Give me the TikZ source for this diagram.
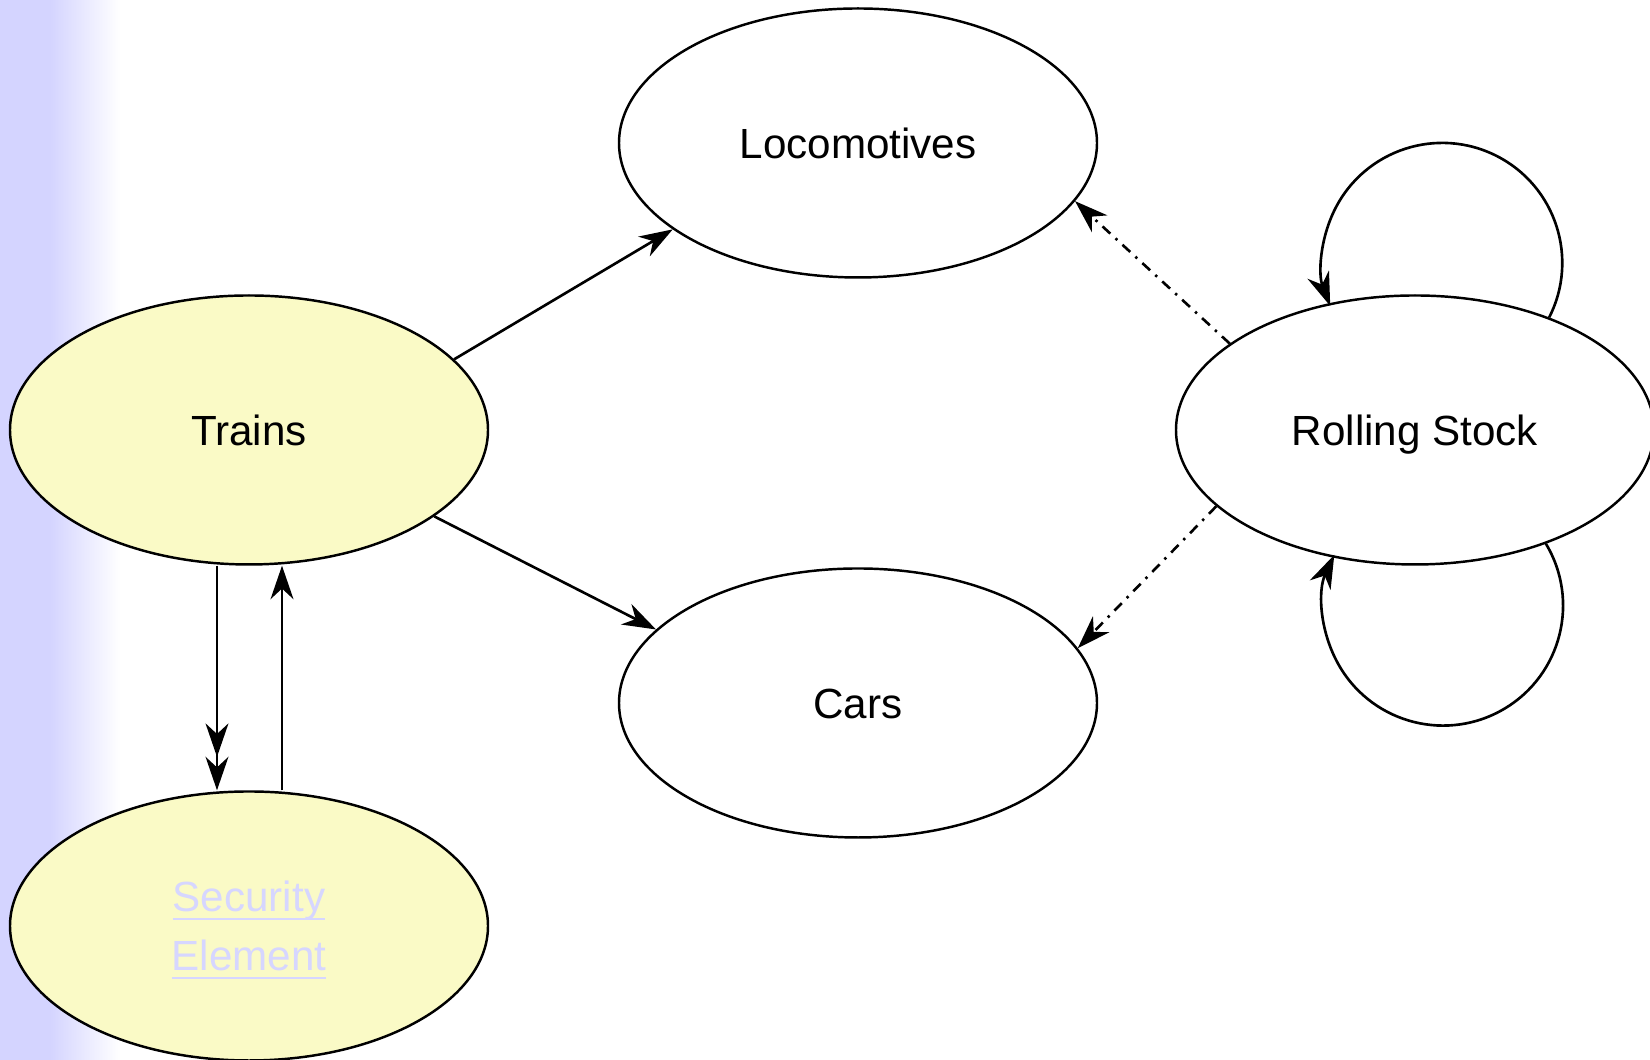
\documentclass[tikz,border=0pt]{standalone}
\usepackage{fontspec}
\setmainfont{Liberation Sans}
\usetikzlibrary{shapes.geometric, arrows.meta}
\definecolor{trainfill}{RGB}{250,250,198}
\definecolor{linkblue}{RGB}{214,214,255}
\definecolor{bandblue}{RGB}{212,212,255}
\newcommand{\linktext}[1]{\setbox0\hbox{#1}\rlap{\smash{\rule[-2.4pt]{\wd0}{0.6pt}}}\box0}
\tikzstyle{st}=[ellipse, draw, line width=0.7pt, minimum width=4.78cm, minimum height=2.69cm, inner sep=0pt, font=\fontsize{12}{17}\selectfont]
\tikzstyle{lb}=[st, text height=8.7pt, text depth=0pt]
\tikzstyle{st1}=[st, fill=trainfill]
\tikzstyle{ln}=[line width=0.75pt, -{Stealth[length=9.5pt, width=6.5pt, inset=3pt]}]
\tikzstyle{dln}=[ln, dash pattern=on 3pt off 2pt on 0.7pt off 2pt]

\begin{document}
\begin{tikzpicture}
  \useasboundingbox (0,0) rectangle (16.5,10.6);
  % blue band on the left
  \fill[bandblue] (0,0) rectangle (0.5,10.6);
  \shade[left color=bandblue, right color=white] (0.5,0) rectangle (1.2,10.6);

  \node[lb, fill=trainfill] (trains) at (2.49,6.30) {Trains};
  \node[st1, text=linkblue, align=center] (secel) at (2.49,1.34) {\linktext{Security}\\\linktext{Element}};
  \node[lb] (locos) at (8.58,9.17) {Locomotives};
  \node[lb] (cars) at (8.58,3.57) {Cars};
  \node[lb] (stock) at (14.15,6.30) {Rolling Stock};

  \draw[ln] (trains.19) -- (locos.205);
  \draw[ln] (trains.335) -- (cars.160);
  \draw[line width=0.75pt, -{Stealth[length=9.5pt, width=6.5pt, inset=3pt, sep=0pt] Stealth[length=9.5pt, width=6.5pt, inset=3pt]}]
    ([xshift=-0.32cm]trains.south) -- ([xshift=-0.32cm]secel.north);
  \draw[ln] ([xshift=0.33cm]secel.north) -- ([xshift=0.33cm]trains.south);
  \draw[dln] (stock.155) -- (locos.345);
  \draw[dln] (stock.201) -- (cars.14);
  % loops on rolling stock
  \draw[ln] (stock.40) arc[start angle=-27, end angle=201, radius=1.2cm];
  \draw[ln] (stock.-41) arc[start angle=31, end angle=-205, radius=1.2cm];
\end{tikzpicture}
\end{document}
